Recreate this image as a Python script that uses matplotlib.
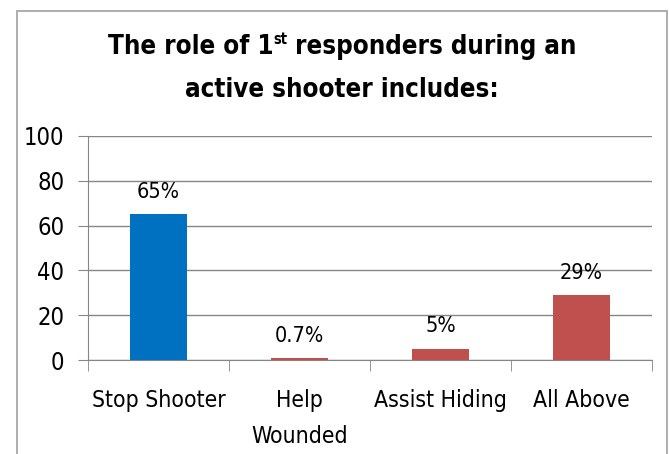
import numpy as np
from matplotlib import pyplot as plt
from matplotlib.patches import Rectangle

plt.rcParams['font.family'] = ['DejaVu Sans']
plt.rcParams['font.stretch'] = 'condensed'

categories = ['Stop Shooter', 'Help\nWounded', 'Assist Hiding', 'All Above']
values = [65, 0.7, 5, 29]
value_labels = ['65%', '0.7%', '5%', '29%']
colors = ['#0070C0', '#C0504D', '#C0504D', '#C0504D']
yticks = [0, 20, 40, 60, 80, 100]

fig = plt.figure(figsize=(6.69, 4.54), dpi=100)
ax = fig.add_axes([88/669, 1-360/454, (652-88)/669, (360-136)/454])

x = np.arange(len(categories))
ax.bar(x, values, width=0.4, color=colors, zorder=3)
for xi, v, lab in zip(x, values, value_labels):
    ax.annotate(lab, (xi, v), xytext=(0, 9), textcoords='offset points',
                ha='center', va='bottom', fontsize=15.5)

ax.set_xlim(-0.5, 3.5)
ax.set_ylim(0, 100)
ax.set_yticks(yticks)
ax.set_yticklabels([str(t) for t in yticks], fontsize=17)
ax.set_xticks(x)
ax.set_xticklabels(categories, fontsize=16.5, linespacing=1.7)
ax.set_xticks(np.arange(-0.5, 4.0, 1.0), minor=True)
ax.tick_params(axis='x', which='major', length=0, pad=21)
ax.tick_params(axis='x', which='minor', length=8, color='#868686', direction='out')
ax.tick_params(axis='y', length=7, color='#868686', pad=10)
ax.grid(axis='y', color='#868686', lw=1, zorder=0)
for s in ['top', 'right']:
    ax.spines[s].set_visible(False)
for s in ['left', 'bottom']:
    ax.spines[s].set_color('#868686')

# outer chart border
fig.patches.append(Rectangle((17/669, -0.05), (667-17)/669, 1-11/454+0.05,
                             transform=fig.transFigure, fill=False,
                             edgecolor='#A0A0A0', lw=1.2))

# title with superscript
renderer = fig.canvas.get_renderer()
tsize = 18.5
parts = [('The role of 1', tsize, 0), ('st', 10.5, 8), (' responders during an', tsize, 0)]
y1 = 1 - 47/454
texts = []
for s, fs, dy in parts:
    t = fig.text(0, y1, s, fontsize=fs, fontweight='bold', va='center')
    texts.append((t, dy))
widths = [t.get_window_extent(renderer).width for t, _ in texts]
total = sum(widths)
xpix = 342 - total/2
for (t, dy), w in zip(texts, widths):
    t.set_x(xpix/669)
    t.set_y(y1 + dy/454)
    xpix += w
fig.text(342/669, 1 - 90/454, 'active shooter includes:', fontsize=tsize,
         fontweight='bold', ha='center', va='center')

fig.savefig('out.png', dpi=100)
